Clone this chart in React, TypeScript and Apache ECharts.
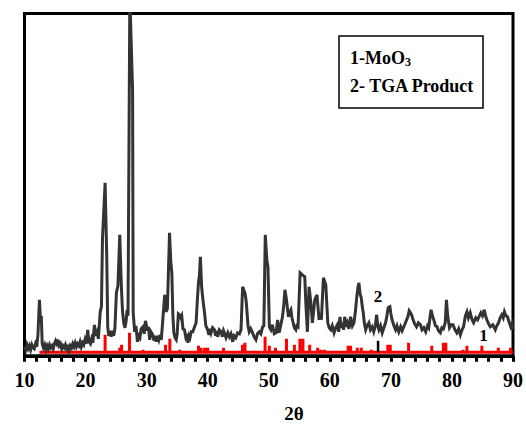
import React, { useEffect, useRef } from "react";
import * as echarts from "echarts";

// 2θ (deg) and intensity (a.u.) of the TGA product pattern (curve 2)
const tgaTheta = [
  10.0, 10.2, 10.4, 10.6, 10.8, 11.0, 11.2, 11.4, 11.6, 11.8, 12.0, 12.2, 12.45, 12.6, 12.75, 12.9,
  13.1, 13.3, 13.5, 13.7, 13.9, 14.1, 14.3, 14.5, 14.7, 14.9, 15.1, 15.3, 15.5, 15.7, 15.9, 16.1,
  16.3, 16.5, 16.7, 16.9, 17.1, 17.3, 17.5, 17.7, 17.9, 18.1, 18.3, 18.5, 18.7, 18.9, 19.1, 19.3,
  19.5, 19.7, 19.9, 20.1, 20.35, 20.55, 20.8, 21.0, 21.2, 21.45, 21.65, 21.9, 22.1,
  22.4, 22.6, 22.77, 23.2, 23.47, 23.63, 23.8, 24.0, 24.2, 24.4, 24.6, 24.8, 25.05, 25.3, 25.6,
  25.87, 26.05, 26.25, 26.45, 26.65, 26.8, 26.95, 27.25, 27.7, 27.8, 28.05, 28.25, 28.5, 28.7,
  28.9, 29.1, 29.4, 29.6, 29.8, 29.95, 30.15, 30.3, 30.5, 30.7, 31.0, 31.2, 31.4, 31.6, 31.8, 32.0,
  32.2, 32.4, 32.65, 32.95, 33.2, 33.4, 33.75, 33.95, 34.13, 34.3, 34.46, 34.65, 34.85, 35.0, 35.2,
  35.4, 35.6, 35.75, 35.95, 36.2, 36.4, 36.6, 36.75, 36.95, 37.1, 37.3, 37.55, 37.8, 38.1, 38.3,
  38.5, 38.65, 38.8, 39.0, 39.1, 39.3, 39.47, 39.7, 40.0, 40.2, 40.4, 40.56, 40.8, 41.1, 41.3,
  41.5, 41.64, 41.9, 42.2, 42.4, 42.6, 42.73, 43.0, 43.3, 43.55, 43.8, 44.1, 44.3, 44.6, 44.9,
  45.2, 45.46, 45.72, 45.9, 46.1, 46.3, 46.45, 46.6, 46.8, 47.05, 47.35, 47.6, 47.9, 48.15, 48.45,
  48.7, 49.0, 49.2, 49.43, 49.7, 49.87, 50.1, 50.35, 50.6, 50.9, 51.2, 51.45, 51.7, 51.95, 52.25,
  52.45, 52.65, 52.9, 53.05, 53.23, 53.45, 53.63, 53.8, 54.0, 54.2, 54.44, 54.6, 54.8, 55.14, 55.5,
  55.9, 56.07, 56.33, 56.6, 56.9, 57.15, 57.35, 57.54, 57.9, 58.24, 58.45, 58.62, 58.95, 59.34,
  59.67, 59.9, 60.16, 60.4, 60.7, 60.95, 61.23, 61.45, 61.67, 61.85, 62.05, 62.25, 62.44, 62.65,
  62.87, 63.15, 63.4, 63.7, 63.96, 64.2, 64.4, 64.6, 64.77, 64.95, 65.15, 65.3, 65.48, 65.65,
  65.87, 66.1, 66.4, 66.65, 66.95, 67.2, 67.45, 67.67, 67.85, 68.04, 68.3, 68.58, 68.85, 69.13,
  69.35, 69.56, 69.84, 70.0, 70.2, 70.5, 70.77, 71.0, 71.3, 71.6, 71.85, 72.12, 72.45, 72.78, 73.0,
  73.22, 73.45, 73.64, 73.9, 74.2, 74.5, 74.85, 75.1, 75.4, 75.7, 76.0, 76.2, 76.4, 76.58, 76.8,
  77.02, 77.3, 77.56, 77.8, 78.1, 78.35, 78.6, 78.9, 79.1, 79.3, 79.6, 79.9, 80.17, 80.5, 80.8,
  81.1, 81.38, 81.65, 81.9, 82.2, 82.46, 82.7, 83.0, 83.3, 83.55, 83.9, 84.2, 84.5, 84.74, 85.0,
  85.3, 85.5, 85.72, 86.0, 86.28, 86.7, 87.1, 87.35, 87.63, 87.9, 88.17, 88.4, 88.6, 88.85, 89.1,
  89.35, 89.64, 89.85, 90.0,
];
const tgaIntensity = [
  9, 6, 11, 7, 10, 6, 11, 8, 7, 12, 9, 21, 56, 36, 40, 12,
  8, 11, 6, 10, 7, 11, 8, 10, 7, 12, 15, 12, 16, 10, 12, 7,
  10, 8, 11, 7, 9, 5, 10, 8, 12, 9, 13, 9, 12, 10, 14, 9,
  13, 11, 16, 12, 26, 14, 12, 17, 13, 31, 20, 24, 17,
  44, 49, 117, 173, 99, 29, 20, 25, 19, 25, 20, 27, 63, 70, 121,
  68, 45, 33, 28, 35, 46, 40, 360, 266, 43, 24, 30, 14, 20,
  18, 27, 29, 22, 35, 31, 25, 29, 16, 24, 21, 15, 20, 14, 20, 16,
  21, 16, 36, 61, 44, 47, 123, 95, 83, 40, 23, 18, 16, 22, 42,
  41, 38, 40, 27, 26, 19, 22, 13, 20, 18, 24, 24, 28, 33, 55,
  74, 80, 99, 70, 63, 52, 44, 30, 26, 21, 27, 23, 28, 26, 20,
  25, 19, 26, 24, 19, 25, 23, 18, 23, 19, 22, 14, 20, 18, 23,
  22, 26, 69, 66, 63, 55, 43, 30, 24, 27, 23, 19, 16, 22, 24,
  22, 29, 30, 121, 95, 89, 29, 26, 31, 22, 23, 36, 23, 30, 39,
  50, 66, 56, 48, 39, 44, 46, 38, 33, 28, 26, 30, 29, 83, 81,
  79, 53, 24, 69, 53, 33, 45, 56, 61, 36, 42, 36, 78, 71,
  33, 28, 26, 30, 23, 28, 31, 24, 39, 28, 33, 26, 39, 29,
  33, 27, 39, 30, 33, 45, 58, 68, 73, 62, 58, 50, 43, 33,
  26, 30, 33, 26, 29, 24, 30, 41, 30, 26, 30, 23, 28, 33,
  40, 48, 49, 42, 36, 30, 26, 30, 24, 29, 25, 29, 34, 39, 45,
  43, 40, 36, 32, 29, 33, 31, 26, 28, 24, 30, 28, 38, 46, 40,
  36, 30, 29, 25, 23, 28, 27, 33, 56, 40, 28, 31, 31, 26, 23,
  27, 21, 26, 29, 40, 44, 38, 43, 36, 33, 38, 36, 40, 43, 40,
  46, 40, 36, 32, 29, 31, 26, 30, 33, 38, 41, 38, 44, 40, 39,
  34, 29, 32, 26,
];

// MoO3 reference stick pattern (curve 1)
const moo3Theta = [
  23.2, 25.6, 25.9, 27.2, 29.4, 33.1, 33.8, 35.4, 38.5, 38.9, 39.5, 40.0, 42.6, 45.7, 46.1, 49.4,
  50.1, 51.1, 52.9, 54.2, 55.1, 55.6, 56.7, 58.0, 58.5, 59.1, 63.0, 63.4, 64.5, 65.15, 66.8, 69.5,
  69.9, 72.9, 76.7, 78.6, 79.0, 81.8, 82.45, 84.9, 87.6, 89.6,
];
const moo3Intensity = [
  21, 8, 11, 23, 6, 11, 17, 6, 10, 8, 8, 8, 8, 11, 13, 19,
  10, 8, 17, 11, 17, 17, 11, 8, 6, 6, 10, 10, 8, 8, 6, 11,
  11, 13, 10, 13, 13, 6, 10, 10, 8, 8,
];
const moo3Baseline = 3.5;
const moo3Start = 12.45;
const moo3End = 90;

// single black marker stick
const markerTheta = [67.9];
const markerIntensity = [15];

const xTicks = [10, 20, 30, 40, 50, 60, 70, 80, 90];
const legendLines = ["1-MoO", "2- TGA Product"];
const curveLabels = [
  { name: "2", theta: 67.88, intensity: 59 },
  { name: "1", theta: 85.18, intensity: 20.5 },
];

const SERIF = "'Liberation Serif', 'Times New Roman', serif";

export default function App() {
  const ref = useRef<HTMLDivElement>(null);
  useEffect(() => {
    if (!ref.current) return;
    const chart = echarts.init(ref.current, null, { renderer: "svg" });

    const tgaData = tgaTheta.map((t, i) => [t, tgaIntensity[i]]);
    const stickData: number[][] = [[moo3Start, moo3Baseline]];
    moo3Theta.forEach((t, i) => {
      stickData.push([t, moo3Baseline], [t, moo3Intensity[i]], [t, moo3Baseline]);
    });
    stickData.push([moo3End, moo3Baseline]);
    const markerData: number[][] = [];
    markerTheta.forEach((t, i) => {
      markerData.push([t, moo3Baseline], [t, markerIntensity[i]]);
    });

    chart.setOption({
      animation: false,
      backgroundColor: "#fff",
      grid: {
        left: 24.5,
        right: 11.5,
        top: 13.5,
        bottom: 69.2,
        show: true,
        borderColor: "#000",
        borderWidth: 3,
        backgroundColor: "transparent",
      },
      xAxis: {
        type: "value",
        min: xTicks[0],
        max: xTicks[xTicks.length - 1],
        interval: 10,
        axisLine: { show: true, lineStyle: { color: "#000", width: 3 } },
        axisTick: { show: true, inside: false, length: 6, lineStyle: { color: "#000", width: 3 } },
        minorTick: { show: true, splitNumber: 5, length: 6, lineStyle: { color: "#000", width: 3 } },
        splitLine: { show: false },
        axisLabel: {
          color: "#000",
          fontFamily: SERIF,
          fontWeight: "bold",
          fontSize: 20,
          margin: 14,
          showMaxLabel: true,
          showMinLabel: true,
        },
      },
      yAxis: {
        type: "value",
        min: 0,
        max: 342.3,
        show: false,
      },
      series: [
        {
          type: "line",
          data: stickData,
          symbol: "none",
          clip: true,
          lineStyle: { color: "#ff0000", width: 3, join: "miter" },
          z: 2,
        },
        {
          type: "line",
          data: markerData,
          symbol: "none",
          lineStyle: { color: "#000", width: 2.5 },
          z: 3,
        },
        {
          type: "line",
          data: tgaData,
          symbol: "none",
          clip: true,
          lineStyle: { color: "#333333", width: 3, join: "miter" },
          z: 4,
          markPoint: {
            symbol: "circle",
            symbolSize: 0,
            data: curveLabels.map((c) => ({
              coord: [c.theta, c.intensity],
              value: c.name,
              label: {
                show: true,
                position: "inside",
                formatter: c.name,
                color: "#000",
                fontFamily: SERIF,
                fontWeight: "bold",
                fontSize: 17,
              },
            })),
          },
        },
      ],
      graphic: [
        {
          type: "rect",
          shape: { x: 339, y: 36, width: 144, height: 72 },
          style: { fill: "#fff", stroke: "#000", lineWidth: 1.5 },
          z: 10,
        },
        {
          type: "text",
          x: 350,
          y: 57.5,
          z: 11,
          style: {
            text: `{a|${legendLines[0]}}{s|3}`,
            verticalAlign: "middle",
            rich: {
              a: { fontFamily: SERIF, fontWeight: "bold", fontSize: 18, fill: "#000" },
              s: { fontFamily: SERIF, fontWeight: "bold", fontSize: 12, fill: "#000", padding: [8, 0, 0, 0] },
            },
          },
        },
        {
          type: "text",
          x: 350,
          y: 85.7,
          z: 11,
          style: {
            text: legendLines[1],
            verticalAlign: "middle",
            fontFamily: SERIF,
            fontWeight: "bold",
            fontSize: 18,
            fill: "#000",
          },
        },
        {
          type: "text",
          x: 294,
          y: 413,
          style: {
            text: "2θ",
            align: "center",
            verticalAlign: "middle",
            fontFamily: SERIF,
            fontWeight: "bold",
            fontSize: 19,
            fill: "#000",
          },
        },
      ],
    });
    return () => chart.dispose();
  }, []);
  return (
    <div
      ref={ref}
      style={{ position: "fixed", left: 0, top: 0, width: 526, height: 425, background: "#fff" }}
    />
  );
}
